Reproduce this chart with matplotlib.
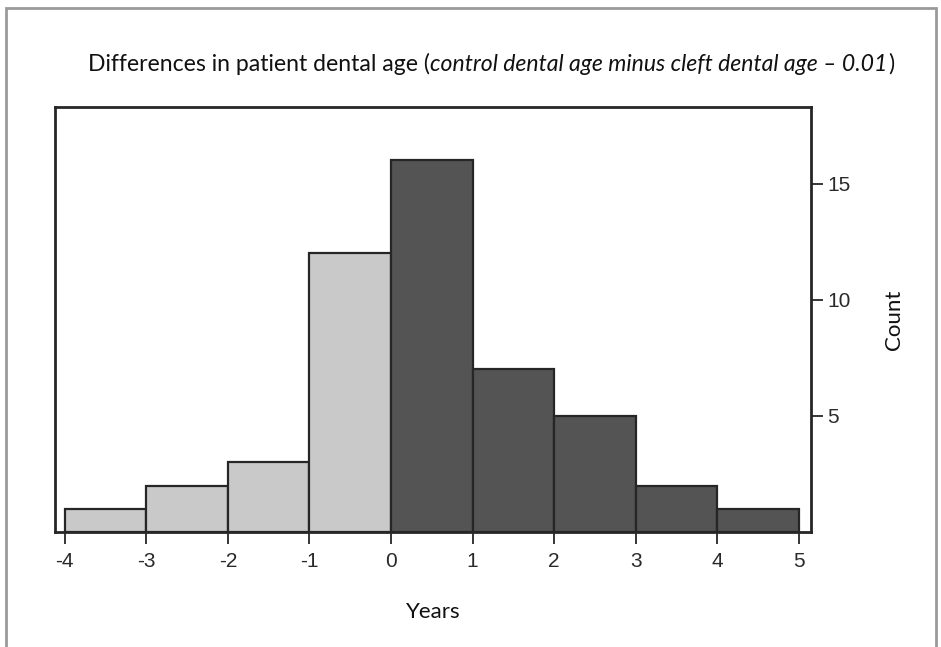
import matplotlib
matplotlib.use('Agg')
import matplotlib.pyplot as plt
from matplotlib.patches import Rectangle

plt.rcParams['axes.unicode_minus'] = False

# bin edges (years) and counts per bin
bin_edges = [-4, -3, -2, -1, 0, 1, 2, 3, 4, 5]
counts = [1, 2, 3, 12, 16, 7, 5, 2, 1]
x_ticks = [-4, -3, -2, -1, 0, 1, 2, 3, 4, 5]
y_ticks = [5, 10, 15]

light = '#c9c9c9'
dark = '#545454'
edge = '#262626'

fig = plt.figure(figsize=(9.41, 6.47), dpi=100)

# outer grey frame of the figure panel
fig.patches.append(Rectangle((0.0064, -0.05), 0.988, 1.0376, transform=fig.transFigure,
                             fill=False, edgecolor='#9a9a9a', linewidth=2))

ax = fig.add_axes([0.0584, 0.1777, 0.8034, 0.6569])

lefts = bin_edges[:-1]
widths = [b - a for a, b in zip(bin_edges[:-1], bin_edges[1:])]
colors = [light if l < 0 else dark for l in lefts]
ax.bar(lefts, counts, width=widths, align='edge', color=colors,
       edgecolor=edge, linewidth=1.6, zorder=2)

ax.set_xlim(-4.12, 5.15)
ax.set_ylim(0, 18.3)

ax.yaxis.tick_right()
ax.yaxis.set_label_position('right')
ax.set_yticks(y_ticks)
ax.set_xticks(x_ticks)
ax.tick_params(axis='both', direction='out', length=8.5, width=1.3, color=edge,
               labelsize=15, labelcolor='#2a2a2a')
ax.tick_params(axis='x', pad=6)
ax.tick_params(axis='y', pad=3)
for lab in ax.get_xticklabels() + ax.get_yticklabels():
    lab.set_family('Liberation Sans')

for s in ax.spines.values():
    s.set_linewidth(2)
    s.set_color(edge)

lab_font = dict(family='Lato', fontsize=16, color='#111111')
ax.set_xlabel('Years', labelpad=22, **lab_font)
ax.set_ylabel('Count', labelpad=24, **lab_font)

# title: regular + italic part
fs = 16.6
t1 = fig.text(88 / 941, 1 - 71 / 647, 'Differences in patient dental age (',
              ha='left', va='baseline', family='Lato', fontsize=fs, color='#111111')
t2 = fig.text(0, 0, 'control dental age minus cleft dental age \u2013 0.01',
              family='Lato', style='italic', fontsize=fs, color='#111111')
t3 = fig.text(0, 0, ')', family='Lato', fontsize=fs, color='#111111')

fig.canvas.draw()
r = fig.canvas.get_renderer()
inv = fig.transFigure.inverted()
b1 = t1.get_window_extent(r)
t2.set_position((inv.transform((b1.x1, 0))[0], t1.get_position()[1]))
t2.set_va('baseline')
b2 = t2.get_window_extent(r)
t3.set_position((inv.transform((b2.x1 + 1, 0))[0], t1.get_position()[1]))
t3.set_va('baseline')

fig.savefig('out.png', dpi=100)
